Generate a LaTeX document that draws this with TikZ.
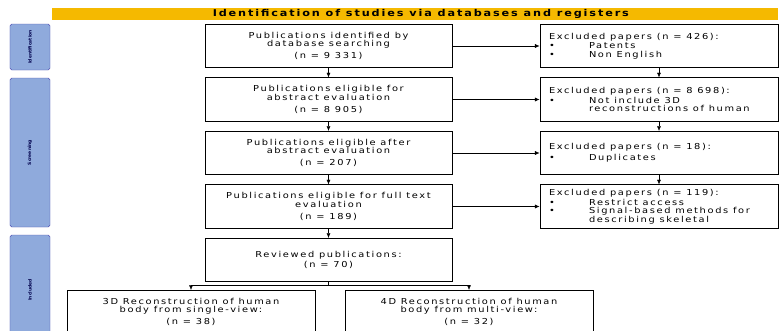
\documentclass[tikz,border=0pt]{standalone}
\usepackage{fontspec}
\setmainfont{DejaVu Sans}[LetterSpace=20, FakeStretch=1.2]
\newfontfamily\phasefont{DejaVu Sans}
\usetikzlibrary{arrows.meta}
\newcommand{\bitem}[1]{\makebox[1.2cm][l]{\textbullet}#1}
\begin{document}
\begin{tikzpicture}[x=0.03cm, y=-0.03cm,
		box/.style={draw, line width=0.7pt, minimum width=7.41cm, minimum height=1.3cm, align=center, font=\fontsize{7}{7.2}\selectfont},
		excl/.style={draw, line width=0.7pt, minimum width=7.14cm, minimum height=1.3cm, text width=6.6cm, align=flush left, font=\fontsize{7}{7.2}\selectfont},
		phase/.style={draw=blue!40!gray, fill={rgb,255:red,143;green,170;blue,220}, rounded corners=1.5pt, minimum width=1.2cm, inner sep=0pt, text=blue!30!black, font=\phasefont\fontsize{3.8}{4}\selectfont\bfseries},
		conn/.style={-{Latex[length=1.4mm,width=1.2mm]}, thin}
		]
		\useasboundingbox (0,0) rectangle (781,330);
		\clip (0,0) rectangle (781,330);
		
		% Header
		\node[fill={rgb,255:red,245;green,185;blue,0}, minimum width=21.78cm, minimum height=0.36cm, inner sep=0pt, font=\fontsize{8}{9}\selectfont\bfseries] (head) at (415,14) {\hspace*{0.35cm}Identification of studies via databases and registers};
		
		% Phases
		\node[phase, minimum height=1.38cm] (ph1) at (30,47) {\rotatebox{90}{Identification}};
		\node[phase, minimum height=4.47cm] (ph2) at (30,152.5) {\rotatebox{90}{Screening}};
		\node[phase, minimum height=3.3cm] (ph3) at (30,290) {\rotatebox{90}{Included}};
		
		% Main flow
		\node[box] (ident) at (328.5,46) {Publications identified by\\ database searching\\[3pt] (n = 9 331)};
		\node[box] (abst) at (328.5,99.5) {Publications eligible for\\ abstract evaluation\\[3pt] (n = 8 905)};
		\node[box] (after) at (328.5,153) {Publications eligible after\\ abstract evaluation\\[3pt] (n = 207)};
		\node[box] (full) at (328.5,206.5) {Publications eligible for full text\\ evaluation\\[3pt] (n = 189)};
		\node[box] (rev) at (328.5,260) {Reviewed publications:\\[1pt] (n = 70)};
		
		% Excluded
		\node[excl] (ex1) at (659,46) {Excluded papers (n = 426):\\[1pt] \bitem{Patents}\\ \bitem{Non English}};
		\node[excl] (ex2) at (659,99.5) {Excluded papers (n = 8 698):\\[1pt] \bitem{Not include 3D}\\ \hspace*{1.2cm}reconstructions of human};
		\node[excl] (ex3) at (659,153) {Excluded papers (n = 18):\\[2pt] \bitem{Duplicates}};
		\node[excl] (ex4) at (659,206.5) {Excluded papers (n = 119):\\[1pt] \bitem{Restrict access}\\ \bitem{Signal-based methods for}\\ \hspace*{1.2cm}describing skeletal};
		
		% Included
		\node[box, minimum width=7.44cm] (single) at (191,312) {3D Reconstruction of human\\ body from single-view:\\[3pt] (n = 38)};
		\node[box, minimum width=7.44cm] (multi) at (469,312) {4D Reconstruction of human\\ body from multi-view:\\[3pt] (n = 32)};
		
		\draw[conn] (ident) -- (abst);
		\draw[conn] (abst) -- (after);
		\draw[conn] (after) -- (full);
		\draw[conn] (full) -- (rev);
		\draw[conn] (ident) -- (ex1);
		\draw[conn] (abst) -- (ex2);
		\draw[conn] (after) -- (ex3);
		\draw[conn] (full) -- (ex4);
		\draw[conn] (ex1) -- (ex2);
		\draw[conn] (ex2) -- (ex3);
		\draw[conn] (ex3) -- (ex4);
		\draw[conn] (rev.south) -- ++(0,3) -| (single.north);
		\draw[conn] (rev.south) -- ++(0,3) -| (multi.north);
		
	\end{tikzpicture}
\end{document}
